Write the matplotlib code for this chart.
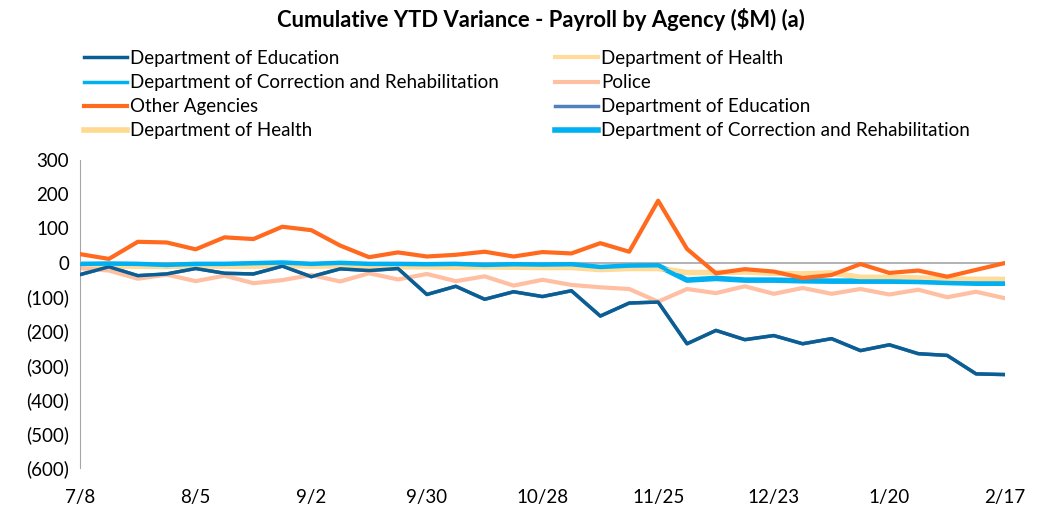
import numpy as np
import matplotlib.pyplot as plt
from matplotlib.ticker import FuncFormatter

plt.rcParams['font.family'] = ['Lato', 'DejaVu Sans']

weeks = ['7/8', '7/15', '7/22', '7/29', '8/5', '8/12', '8/19', '8/26', '9/2', '9/9', '9/16',
         '9/23', '9/30', '10/7', '10/14', '10/21', '10/28', '11/4', '11/11', '11/18', '11/25',
         '12/2', '12/9', '12/16', '12/23', '12/30', '1/6', '1/13', '1/20', '1/27', '2/3',
         '2/10', '2/17']

education = [-35, -12, -38, -33, -17, -31, -33, -10, -41, -18, -23, -17, -93, -69, -107, -85,
             -99, -82, -156, -118, -115, -237, -198, -225, -213, -237, -222, -257, -240, -266,
             -271, -325, -327]
health = [-9, -10, -10, -11, -9, -10, -10, -8, -10, -9, -11, -12, -12, -13, -12, -13, -14, -14,
          -20, -17, -17, -29, -29, -27, -31, -33, -30, -43, -43, -45, -48, -49, -49]
correction = [-5, -4, -5, -8, -5, -5, -3, -1, -5, -2, -5, -5, -6, -5, -8, -6, -7, -6, -14, -10,
              -9, -51, -46, -51, -51, -53, -54, -54, -54, -55, -58, -60, -60]
police = [-16, -23, -47, -35, -54, -38, -60, -51, -36, -55, -31, -49, -33, -54, -40, -67, -50,
          -65, -72, -77, -114, -77, -89, -69, -91, -74, -91, -77, -93, -79, -101, -85, -104]
other = [25, 11, 61, 59, 39, 74, 69, 105, 95, 50, 16, 30, 18, 23, 32, 18, 31, 27, 57, 32, 181,
         40, -31, -19, -26, -45, -36, -4, -30, -23, -41, -21, -1]

x = np.arange(len(weeks))

fig = plt.figure(figsize=(10.38, 5.08), dpi=100)
ax = fig.add_axes([80 / 1038, 40 / 508, 925 / 1038, 308 / 508])

# duplicate series (drawn underneath, as in the source workbook)
l6, = ax.plot(x, education, color='#4F81BD', lw=2.5, zorder=1)
l7, = ax.plot(x, health, color='#FFD990', lw=4, zorder=1)
l8, = ax.plot(x, correction, color='#00B0F0', lw=4, zorder=1)

l1, = ax.plot(x, education, color='#0B5E93', lw=2.5, zorder=3)
l2, = ax.plot(x, health, color='#FFDC9A', lw=3, zorder=2)
l3, = ax.plot(x, correction, color='#00B0F0', lw=2.5, zorder=3)
l4, = ax.plot(x, police, color='#FFBFA3', lw=3, zorder=2)
l5, = ax.plot(x, other, color='#FF6A1F', lw=3, zorder=4)

ax.axhline(0, color='#A6A6A6', lw=1.2, zorder=0)

ax.set_xlim(0, len(weeks) - 1)
ax.set_ylim(-600, 300)
ax.set_yticks(range(-600, 301, 100))
ax.yaxis.set_major_formatter(FuncFormatter(lambda v, p: f'({abs(int(v))})' if v < 0 else f'{int(v)}'))
ax.set_xticks(x[::4])
ax.set_xticklabels(weeks[::4])
ax.tick_params(length=0, labelsize=13.5, colors='black')
ax.tick_params(axis='y', pad=8)
ax.tick_params(axis='x', pad=15)
for s in ['top', 'right', 'bottom']:
    ax.spines[s].set_visible(False)
ax.spines['left'].set_color('#A6A6A6')

fig.text(541 / 1038, 0.962, 'Cumulative YTD Variance - Payroll by Agency ($M) (a)',
         ha='center', va='center', fontsize=15.8, fontweight='bold')

# legend filled row by row (matplotlib fills columns, so reorder)
handles = [l1, l3, l5, l7, l2, l4, l6, l8]
labels = ['Department of Education', 'Department of Correction and Rehabilitation',
          'Other Agencies', 'Department of Health',
          'Department of Health', 'Police', 'Department of Education',
          'Department of Correction and Rehabilitation']
fig.legend(handles, labels, ncol=2, loc='upper left', bbox_to_anchor=(84 / 1038, 1 - 50 / 508),
           frameon=False, fontsize=13.5, handlelength=2.3, handletextpad=0.15,
           labelspacing=0.38, columnspacing=3.0, borderaxespad=0, borderpad=0)

fig.savefig('out.png', dpi=100)
